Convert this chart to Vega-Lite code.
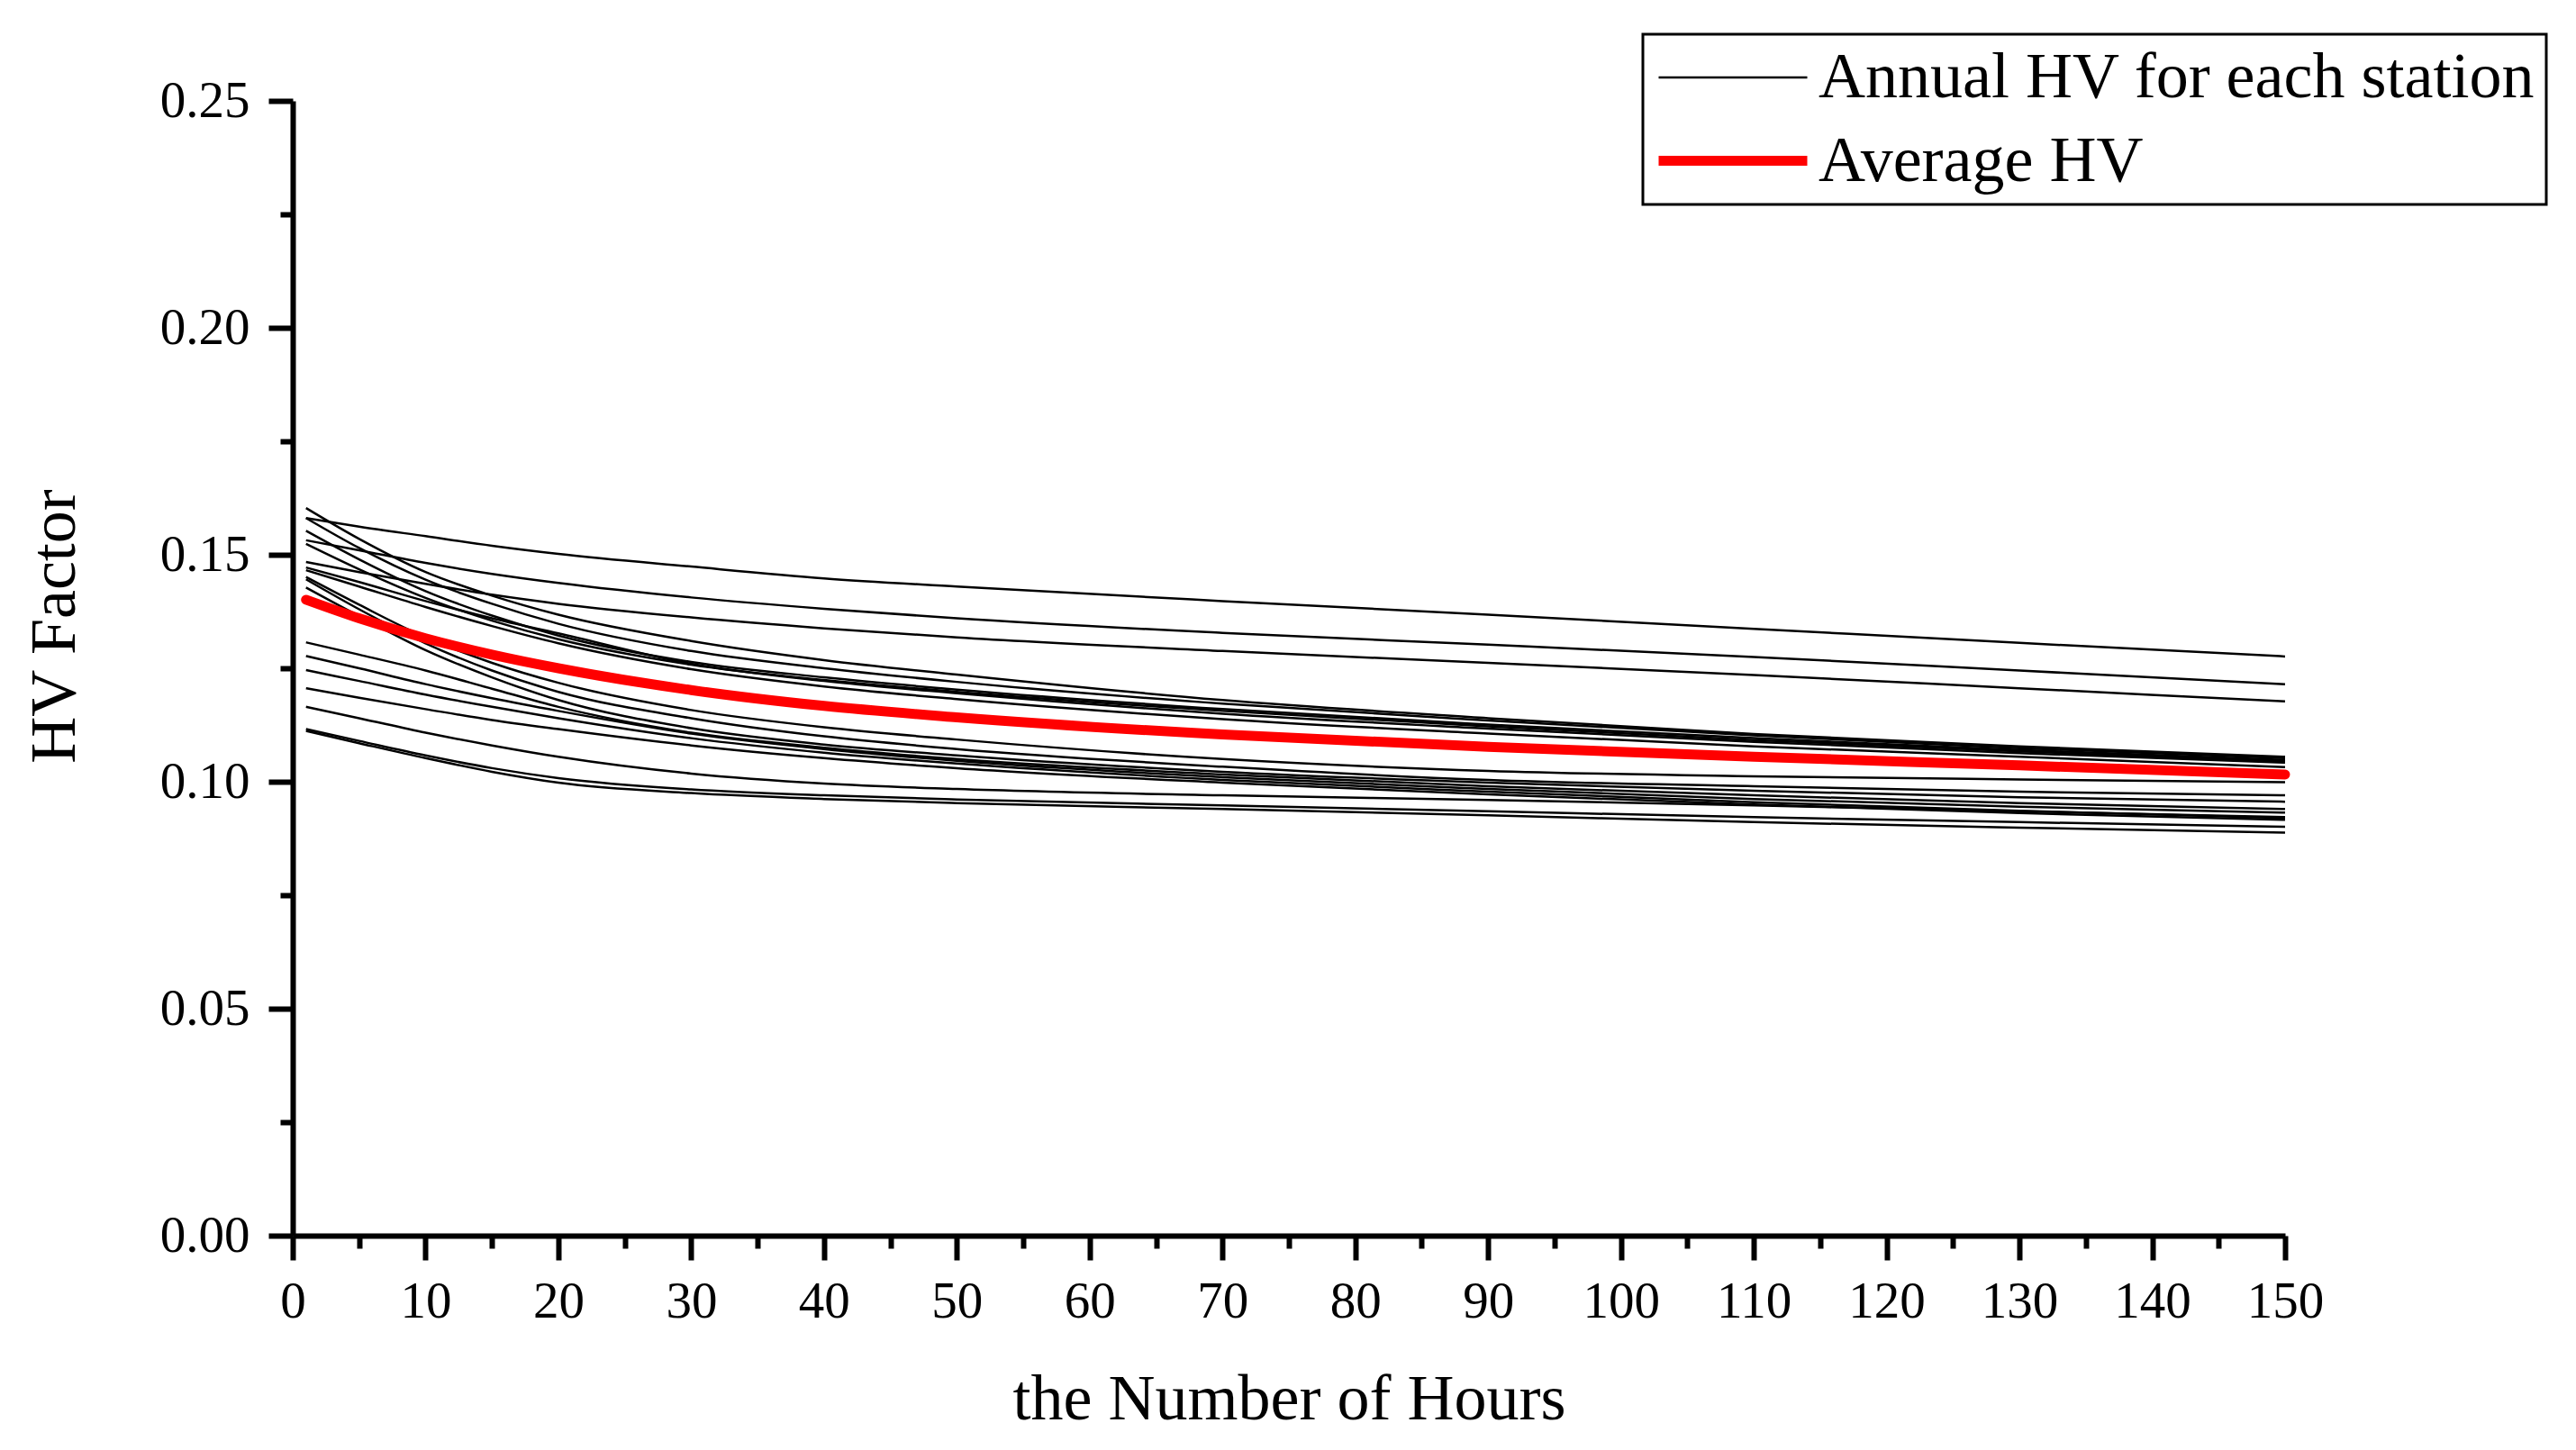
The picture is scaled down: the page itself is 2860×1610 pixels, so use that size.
{
"$schema": "https://vega.github.io/schema/vega-lite/v6.json",
"width": 2212, "height": 1260,
"autosize": {"type": "none"},
"padding": {"left": 325, "top": 112, "right": 323, "bottom": 238},
"background": "white",
"config": {
  "view": {"stroke": null},
  "font": "Liberation Serif",
  "legend": {"strokeColor": "black", "strokeWidth": 3, "fillColor": "white"}
},
"datasets": {
"st": [
{"s":"A","t":"a","h":1,"v":0.1581},{"s":"A","t":"a","h":5,"v":0.1562},{"s":"A","t":"a","h":10,"v":0.1541},{"s":"A","t":"a","h":15,"v":0.1520},{"s":"A","t":"a","h":20,"v":0.1502},{"s":"A","t":"a","h":30,"v":0.1474},{"s":"A","t":"a","h":40,"v":0.1448},{"s":"A","t":"a","h":50,"v":0.1430},{"s":"A","t":"a","h":70,"v":0.1398},{"s":"A","t":"a","h":90,"v":0.1368},{"s":"A","t":"a","h":110,"v":0.1337},{"s":"A","t":"a","h":130,"v":0.1306},{"s":"A","t":"a","h":150,"v":0.1276},
{"s":"B","t":"a","h":1,"v":0.1532},{"s":"B","t":"a","h":5,"v":0.1510},{"s":"B","t":"a","h":10,"v":0.1482},{"s":"B","t":"a","h":15,"v":0.1458},{"s":"B","t":"a","h":20,"v":0.1438},{"s":"B","t":"a","h":30,"v":0.1406},{"s":"B","t":"a","h":40,"v":0.1381},{"s":"B","t":"a","h":50,"v":0.1360},{"s":"B","t":"a","h":70,"v":0.1328},{"s":"B","t":"a","h":90,"v":0.1302},{"s":"B","t":"a","h":110,"v":0.1275},{"s":"B","t":"a","h":130,"v":0.1245},{"s":"B","t":"a","h":150,"v":0.1215},
{"s":"C","t":"a","h":1,"v":0.1484},{"s":"C","t":"a","h":5,"v":0.1462},{"s":"C","t":"a","h":10,"v":0.1436},{"s":"C","t":"a","h":15,"v":0.1412},{"s":"C","t":"a","h":20,"v":0.1392},{"s":"C","t":"a","h":30,"v":0.1362},{"s":"C","t":"a","h":40,"v":0.1338},{"s":"C","t":"a","h":50,"v":0.1318},{"s":"C","t":"a","h":70,"v":0.1288},{"s":"C","t":"a","h":90,"v":0.1262},{"s":"C","t":"a","h":110,"v":0.1235},{"s":"C","t":"a","h":130,"v":0.1206},{"s":"C","t":"a","h":150,"v":0.1177},
{"s":"S1","t":"a","h":1,"v":0.1603},{"s":"S1","t":"a","h":5,"v":0.1535},{"s":"S1","t":"a","h":10,"v":0.1462},{"s":"S1","t":"a","h":15,"v":0.1410},{"s":"S1","t":"a","h":20,"v":0.1368},{"s":"S1","t":"a","h":30,"v":0.1310},{"s":"S1","t":"a","h":40,"v":0.1268},{"s":"S1","t":"a","h":50,"v":0.1236},{"s":"S1","t":"a","h":70,"v":0.1180},{"s":"S1","t":"a","h":90,"v":0.1140},{"s":"S1","t":"a","h":110,"v":0.1105},{"s":"S1","t":"a","h":130,"v":0.1078},{"s":"S1","t":"a","h":150,"v":0.1055},
{"s":"S2","t":"a","h":1,"v":0.1581},{"s":"S2","t":"a","h":5,"v":0.1515},{"s":"S2","t":"a","h":10,"v":0.1445},{"s":"S2","t":"a","h":15,"v":0.1392},{"s":"S2","t":"a","h":20,"v":0.1348},{"s":"S2","t":"a","h":30,"v":0.1288},{"s":"S2","t":"a","h":40,"v":0.1250},{"s":"S2","t":"a","h":50,"v":0.1220},{"s":"S2","t":"a","h":70,"v":0.1172},{"s":"S2","t":"a","h":90,"v":0.1135},{"s":"S2","t":"a","h":110,"v":0.1102},{"s":"S2","t":"a","h":130,"v":0.1074},{"s":"S2","t":"a","h":150,"v":0.1052},
{"s":"S3","t":"a","h":1,"v":0.1553},{"s":"S3","t":"a","h":5,"v":0.1490},{"s":"S3","t":"a","h":10,"v":0.1420},{"s":"S3","t":"a","h":15,"v":0.1366},{"s":"S3","t":"a","h":20,"v":0.1322},{"s":"S3","t":"a","h":30,"v":0.1264},{"s":"S3","t":"a","h":40,"v":0.1230},{"s":"S3","t":"a","h":50,"v":0.1203},{"s":"S3","t":"a","h":70,"v":0.1160},{"s":"S3","t":"a","h":90,"v":0.1126},{"s":"S3","t":"a","h":110,"v":0.1096},{"s":"S3","t":"a","h":130,"v":0.1070},{"s":"S3","t":"a","h":150,"v":0.1048},
{"s":"S4","t":"a","h":1,"v":0.1524},{"s":"S4","t":"a","h":5,"v":0.1468},{"s":"S4","t":"a","h":10,"v":0.1405},{"s":"S4","t":"a","h":15,"v":0.1355},{"s":"S4","t":"a","h":20,"v":0.1314},{"s":"S4","t":"a","h":30,"v":0.1258},{"s":"S4","t":"a","h":40,"v":0.1224},{"s":"S4","t":"a","h":50,"v":0.1198},{"s":"S4","t":"a","h":70,"v":0.1156},{"s":"S4","t":"a","h":90,"v":0.1122},{"s":"S4","t":"a","h":110,"v":0.1092},{"s":"S4","t":"a","h":130,"v":0.1067},{"s":"S4","t":"a","h":150,"v":0.1045},
{"s":"M1","t":"a","h":1,"v":0.1472},{"s":"M1","t":"a","h":5,"v":0.1440},{"s":"M1","t":"a","h":10,"v":0.1398},{"s":"M1","t":"a","h":15,"v":0.1360},{"s":"M1","t":"a","h":20,"v":0.1327},{"s":"M1","t":"a","h":30,"v":0.1260},{"s":"M1","t":"a","h":40,"v":0.1222},{"s":"M1","t":"a","h":50,"v":0.1195},{"s":"M1","t":"a","h":70,"v":0.1150},{"s":"M1","t":"a","h":90,"v":0.1117},{"s":"M1","t":"a","h":110,"v":0.1088},{"s":"M1","t":"a","h":130,"v":0.1063},{"s":"M1","t":"a","h":150,"v":0.1042},
{"s":"M2","t":"a","h":1,"v":0.1466},{"s":"M2","t":"a","h":5,"v":0.1430},{"s":"M2","t":"a","h":10,"v":0.1385},{"s":"M2","t":"a","h":15,"v":0.1343},{"s":"M2","t":"a","h":20,"v":0.1305},{"s":"M2","t":"a","h":30,"v":0.1248},{"s":"M2","t":"a","h":40,"v":0.1210},{"s":"M2","t":"a","h":50,"v":0.1182},{"s":"M2","t":"a","h":70,"v":0.1138},{"s":"M2","t":"a","h":90,"v":0.1106},{"s":"M2","t":"a","h":110,"v":0.1078},{"s":"M2","t":"a","h":130,"v":0.1055},{"s":"M2","t":"a","h":150,"v":0.1032},
{"s":"M3","t":"a","h":1,"v":0.1451},{"s":"M3","t":"a","h":5,"v":0.1390},{"s":"M3","t":"a","h":10,"v":0.1318},{"s":"M3","t":"a","h":15,"v":0.1262},{"s":"M3","t":"a","h":20,"v":0.1218},{"s":"M3","t":"a","h":30,"v":0.1158},{"s":"M3","t":"a","h":40,"v":0.1120},{"s":"M3","t":"a","h":50,"v":0.1093},{"s":"M3","t":"a","h":70,"v":0.1050},{"s":"M3","t":"a","h":90,"v":0.1024},{"s":"M3","t":"a","h":110,"v":0.1012},{"s":"M3","t":"a","h":130,"v":0.1005},{"s":"M3","t":"a","h":150,"v":0.0999},
{"s":"M4","t":"a","h":1,"v":0.1446},{"s":"M4","t":"a","h":5,"v":0.1380},{"s":"M4","t":"a","h":10,"v":0.1305},{"s":"M4","t":"a","h":15,"v":0.1245},{"s":"M4","t":"a","h":20,"v":0.1198},{"s":"M4","t":"a","h":30,"v":0.1140},{"s":"M4","t":"a","h":40,"v":0.1100},{"s":"M4","t":"a","h":50,"v":0.1072},{"s":"M4","t":"a","h":70,"v":0.1033},{"s":"M4","t":"a","h":90,"v":0.1004},{"s":"M4","t":"a","h":110,"v":0.0990},{"s":"M4","t":"a","h":130,"v":0.0978},{"s":"M4","t":"a","h":150,"v":0.0970},
{"s":"L0","t":"a","h":1,"v":0.1428},{"s":"L0","t":"a","h":5,"v":0.1365},{"s":"L0","t":"a","h":10,"v":0.1290},{"s":"L0","t":"a","h":15,"v":0.1230},{"s":"L0","t":"a","h":20,"v":0.1180},{"s":"L0","t":"a","h":30,"v":0.1118},{"s":"L0","t":"a","h":40,"v":0.1082},{"s":"L0","t":"a","h":50,"v":0.1058},{"s":"L0","t":"a","h":70,"v":0.1022},{"s":"L0","t":"a","h":90,"v":0.0998},{"s":"L0","t":"a","h":110,"v":0.0980},{"s":"L0","t":"a","h":130,"v":0.0966},{"s":"L0","t":"a","h":150,"v":0.0956},
{"s":"L1","t":"a","h":1,"v":0.1307},{"s":"L1","t":"a","h":5,"v":0.1280},{"s":"L1","t":"a","h":10,"v":0.1245},{"s":"L1","t":"a","h":15,"v":0.1205},{"s":"L1","t":"a","h":20,"v":0.1165},{"s":"L1","t":"a","h":30,"v":0.1108},{"s":"L1","t":"a","h":40,"v":0.1075},{"s":"L1","t":"a","h":50,"v":0.1050},{"s":"L1","t":"a","h":70,"v":0.1016},{"s":"L1","t":"a","h":90,"v":0.0990},{"s":"L1","t":"a","h":110,"v":0.0970},{"s":"L1","t":"a","h":130,"v":0.0953},{"s":"L1","t":"a","h":150,"v":0.0940},
{"s":"L2","t":"a","h":1,"v":0.1277},{"s":"L2","t":"a","h":5,"v":0.1250},{"s":"L2","t":"a","h":10,"v":0.1215},{"s":"L2","t":"a","h":15,"v":0.1184},{"s":"L2","t":"a","h":20,"v":0.1156},{"s":"L2","t":"a","h":30,"v":0.1106},{"s":"L2","t":"a","h":40,"v":0.1072},{"s":"L2","t":"a","h":50,"v":0.1046},{"s":"L2","t":"a","h":70,"v":0.1010},{"s":"L2","t":"a","h":90,"v":0.0984},{"s":"L2","t":"a","h":110,"v":0.0962},{"s":"L2","t":"a","h":130,"v":0.0945},{"s":"L2","t":"a","h":150,"v":0.0932},
{"s":"L3","t":"a","h":1,"v":0.1246},{"s":"L3","t":"a","h":5,"v":0.1222},{"s":"L3","t":"a","h":10,"v":0.1192},{"s":"L3","t":"a","h":15,"v":0.1165},{"s":"L3","t":"a","h":20,"v":0.1140},{"s":"L3","t":"a","h":30,"v":0.1096},{"s":"L3","t":"a","h":40,"v":0.1064},{"s":"L3","t":"a","h":50,"v":0.1040},{"s":"L3","t":"a","h":70,"v":0.1004},{"s":"L3","t":"a","h":90,"v":0.0978},{"s":"L3","t":"a","h":110,"v":0.0955},{"s":"L3","t":"a","h":130,"v":0.0936},{"s":"L3","t":"a","h":150,"v":0.0920},
{"s":"L4","t":"a","h":1,"v":0.1206},{"s":"L4","t":"a","h":5,"v":0.1185},{"s":"L4","t":"a","h":10,"v":0.1160},{"s":"L4","t":"a","h":15,"v":0.1136},{"s":"L4","t":"a","h":20,"v":0.1116},{"s":"L4","t":"a","h":30,"v":0.1080},{"s":"L4","t":"a","h":40,"v":0.1052},{"s":"L4","t":"a","h":50,"v":0.1030},{"s":"L4","t":"a","h":70,"v":0.0998},{"s":"L4","t":"a","h":90,"v":0.0972},{"s":"L4","t":"a","h":110,"v":0.0950},{"s":"L4","t":"a","h":130,"v":0.0931},{"s":"L4","t":"a","h":150,"v":0.0916},
{"s":"L5","t":"a","h":1,"v":0.1165},{"s":"L5","t":"a","h":5,"v":0.1140},{"s":"L5","t":"a","h":10,"v":0.1108},{"s":"L5","t":"a","h":15,"v":0.1080},{"s":"L5","t":"a","h":20,"v":0.1055},{"s":"L5","t":"a","h":30,"v":0.1018},{"s":"L5","t":"a","h":40,"v":0.0996},{"s":"L5","t":"a","h":50,"v":0.0984},{"s":"L5","t":"a","h":70,"v":0.0970},{"s":"L5","t":"a","h":90,"v":0.0960},{"s":"L5","t":"a","h":110,"v":0.0948},{"s":"L5","t":"a","h":130,"v":0.0935},{"s":"L5","t":"a","h":150,"v":0.0922},
{"s":"L6","t":"a","h":1,"v":0.1116},{"s":"L6","t":"a","h":5,"v":0.1090},{"s":"L6","t":"a","h":10,"v":0.1058},{"s":"L6","t":"a","h":15,"v":0.1030},{"s":"L6","t":"a","h":20,"v":0.1008},{"s":"L6","t":"a","h":30,"v":0.0983},{"s":"L6","t":"a","h":40,"v":0.0970},{"s":"L6","t":"a","h":50,"v":0.0961},{"s":"L6","t":"a","h":70,"v":0.0948},{"s":"L6","t":"a","h":90,"v":0.0935},{"s":"L6","t":"a","h":110,"v":0.0922},{"s":"L6","t":"a","h":130,"v":0.0911},{"s":"L6","t":"a","h":150,"v":0.0901},
{"s":"L7","t":"a","h":1,"v":0.1112},{"s":"L7","t":"a","h":5,"v":0.1085},{"s":"L7","t":"a","h":10,"v":0.1052},{"s":"L7","t":"a","h":15,"v":0.1022},{"s":"L7","t":"a","h":20,"v":0.0998},{"s":"L7","t":"a","h":30,"v":0.0975},{"s":"L7","t":"a","h":40,"v":0.0962},{"s":"L7","t":"a","h":50,"v":0.0953},{"s":"L7","t":"a","h":70,"v":0.0940},{"s":"L7","t":"a","h":90,"v":0.0926},{"s":"L7","t":"a","h":110,"v":0.0911},{"s":"L7","t":"a","h":130,"v":0.0899},{"s":"L7","t":"a","h":150,"v":0.0888}
],
"avg": [
{"s":"Avg","t":"m","h":1,"v":0.1401},{"s":"Avg","t":"m","h":5,"v":0.1360},{"s":"Avg","t":"m","h":10,"v":0.1316},{"s":"Avg","t":"m","h":15,"v":0.1280},{"s":"Avg","t":"m","h":20,"v":0.1250},{"s":"Avg","t":"m","h":30,"v":0.1202},{"s":"Avg","t":"m","h":40,"v":0.1167},{"s":"Avg","t":"m","h":50,"v":0.1142},{"s":"Avg","t":"m","h":70,"v":0.1104},{"s":"Avg","t":"m","h":90,"v":0.1077},{"s":"Avg","t":"m","h":110,"v":0.1055},{"s":"Avg","t":"m","h":130,"v":0.1036},{"s":"Avg","t":"m","h":150,"v":0.1016}
]
},
"encoding": {
  "x": {"field": "h", "type": "quantitative",
    "scale": {"domain": [0, 150], "nice": false, "zero": false},
    "axis": {
      "title": "the Number of Hours",
      "values": [0,5,10,15,20,25,30,35,40,45,50,55,60,65,70,75,80,85,90,95,100,105,110,115,120,125,130,135,140,145,150],
      "format": "d",
      "labelExpr": "datum.value % 10 == 0 ? datum.label : ''",
      "labelOverlap": false, "labelFlush": false,
      "tickSize": {"condition": {"test": "datum.value % 10 == 0", "value": 27}, "value": 14},
      "tickWidth": 6, "tickColor": "black", "domainWidth": 6, "domainColor": "black",
      "grid": false,
      "labelFont": "Liberation Serif", "labelFontSize": 57, "labelColor": "black",
      "labelBaseline": "alphabetic", "labelPadding": 63,
      "titleFont": "Liberation Serif", "titleFontSize": 72, "titleFontWeight": "normal", "titleColor": "black",
      "titleY": 203, "titleBaseline": "alphabetic"
    }},
  "y": {"field": "v", "type": "quantitative",
    "scale": {"domain": [0, 0.25], "nice": false},
    "axis": {
      "title": "HV Factor",
      "values": [0,0.025,0.05,0.075,0.1,0.125,0.15,0.175,0.2,0.225,0.25],
      "labelExpr": "round(datum.value*1000) % 50 == 0 ? format(datum.value, '.2f') : ''",
      "labelOverlap": false, "labelFlush": false,
      "tickSize": {"condition": {"test": "round(datum.value*1000) % 50 == 0", "value": 27}, "value": 14},
      "tickWidth": 6, "tickColor": "black", "domainWidth": 6, "domainColor": "black",
      "grid": false,
      "labelFont": "Liberation Serif", "labelFontSize": 57, "labelColor": "black",
      "labelPadding": 21, "labelBaseline": "middle",
      "titleFont": "Liberation Serif", "titleFontSize": 72, "titleFontWeight": "normal", "titleColor": "black",
      "titleX": -243, "titleY": 583, "titleBaseline": "alphabetic", "titleAngle": -90
    }}
},
"layer": [
  {"data": {"name": "st"},
   "mark": {"type": "line", "interpolate": "monotone"},
   "encoding": {
     "detail": {"field": "s", "type": "nominal"},
     "color": {"field": "t", "type": "nominal", "scale": {"domain": ["a", "m"], "range": ["black", "red"]},
       "legend": {"title": null, "orient": "none", "legendX": 1499, "legendY": -74,
         "labelExpr": "datum.label == 'a' ? 'Annual HV for each station' : 'Average HV'",
         "labelFont": "Liberation Serif", "labelFontSize": 72, "labelColor": "black", "labelLimit": 3000,
         "symbolType": "M-1,0H4", "symbolSize": 4356, "labelOffset": 106,
         "padding": 12, "rowPadding": 18}},
     "strokeWidth": {"field": "t", "type": "nominal", "scale": {"domain": ["a", "m"], "range": [2.5, 11]},
       "legend": {"title": null, "orient": "none", "legendX": 1499, "legendY": -74,
         "labelExpr": "datum.label == 'a' ? 'Annual HV for each station' : 'Average HV'",
         "labelFont": "Liberation Serif", "labelFontSize": 72, "labelColor": "black", "labelLimit": 3000,
         "symbolType": "M-1,0H4", "symbolSize": 4356, "labelOffset": 106,
         "padding": 12, "rowPadding": 18}}
   }},
  {"data": {"name": "avg"},
   "mark": {"type": "line", "interpolate": "monotone", "strokeCap": "round"},
   "encoding": {
     "color": {"field": "t", "type": "nominal"},
     "strokeWidth": {"field": "t", "type": "nominal"}
   }}
]
}
